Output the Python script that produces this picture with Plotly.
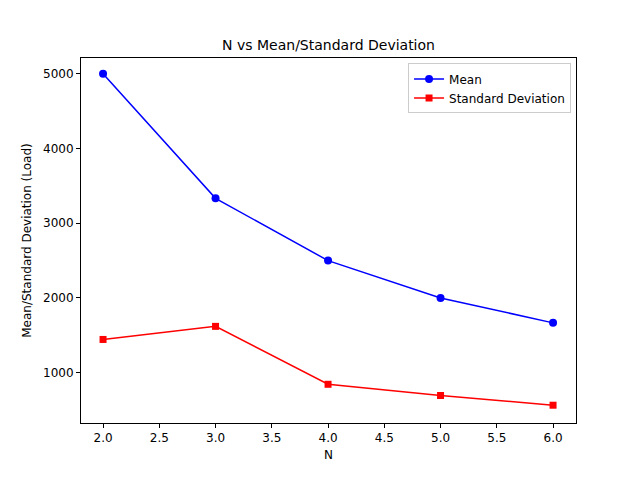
import plotly.graph_objects as go

n_values = [2, 3, 4, 5, 6]
mean_values = [5000, 3333, 2500, 2000, 1667]
std_values = [1445, 1620, 845, 695, 565]

fig = go.Figure()
fig.add_trace(go.Scatter(x=n_values, y=mean_values, mode="lines+markers", name="Mean",
                         line=dict(color="blue", width=1.5),
                         marker=dict(symbol="circle", size=8, color="blue")))
fig.add_trace(go.Scatter(x=n_values, y=std_values, mode="lines+markers", name="Standard Deviation",
                         line=dict(color="red", width=1.5),
                         marker=dict(symbol="square", size=7, color="red")))

axis_style = dict(showgrid=False, zeroline=False, showline=True, linecolor="black",
                  linewidth=1, mirror=True, ticks="outside", ticklen=4,
                  tickcolor="black", tickfont=dict(size=12, color="black"))

# page body has an 8px margin, so the figure is sized to fit inside it
fig.update_layout(
    width=624, height=464,
    margin=dict(l=73, r=56, t=50, b=44),
    paper_bgcolor="white", plot_bgcolor="white",
    font=dict(family="DejaVu Sans", size=12, color="black"),
    title=dict(text="N vs Mean/Standard Deviation", x=73 / 624 + (495 / 624) / 2, xanchor="center",
               y=1 - 37 / 464, yanchor="middle", font=dict(size=14)),
    xaxis=dict(range=[1.804, 6.204], tickvals=[2, 2.5, 3, 3.5, 4, 4.5, 5, 5.5, 6],
               ticktext=["2.0", "2.5", "3.0", "3.5", "4.0", "4.5", "5.0", "5.5", "6.0"],
               title=dict(text="N", standoff=6, font=dict(size=12)), **axis_style),
    yaxis=dict(range=[327, 5211], tickvals=[1000, 2000, 3000, 4000, 5000],
               title=dict(text="Mean/Standard Deviation (Load)", standoff=8, font=dict(size=12)),
               **axis_style),
    legend=dict(x=0.99, y=0.985, xanchor="right", yanchor="top",
                bgcolor="white", bordercolor="#cccccc", borderwidth=1,
                font=dict(size=12)),
)

fig.write_html("out.html")
